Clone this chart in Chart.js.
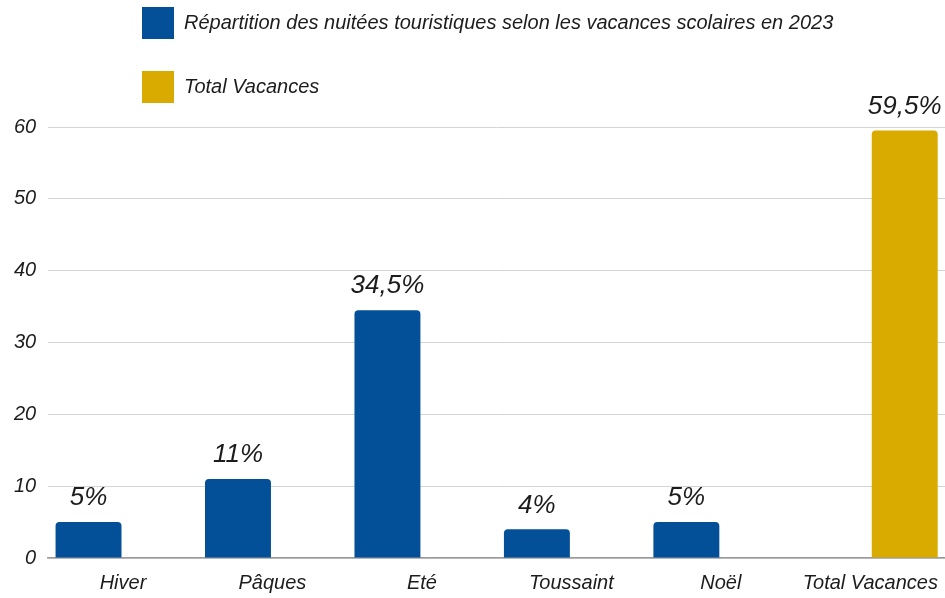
<!DOCTYPE html>
<html lang="fr">
<head>
<meta charset="utf-8">
<title>Nuitées touristiques et vacances scolaires 2023</title>
<script src="https://cdn.jsdelivr.net/npm/chart.js@4.4.0/dist/chart.umd.min.js"></script>
<style>
  html, body { margin: 0; padding: 0; background: #fff; }
  #cadre { width: 945px; height: 598px; }
</style>
</head>
<body>
<div id="cadre"><canvas id="graficoVacances"></canvas></div>
<script>
// données
const categories = ['Hiver', 'Pâques', 'Eté', 'Toussaint', 'Noël', 'Total Vacances'];
const nuitees = [5, 11, 34.5, 4, 5, null];
const totalVacances = [null, null, null, null, null, 59.5];
const etiquettesNuitees = ['5%', '11%', '34,5%', '4%', '5%', ''];
const etiquettesTotal = ['', '', '', '', '', '59,5%'];
const graduationsY = [0, 10, 20, 30, 40, 50, 60];

const bleu = '#034f98';
const jaune = '#d9aa00';
const encre = '#1c1c1c';
const police = "'Liberation Sans', Arial, sans-serif";

// étiquettes de valeur au-dessus des barres
const pluginEtiquettes = {
    id: 'etiquettes',
    afterDatasetsDraw(chart) {
        const ctx = chart.ctx;
        const listes = [etiquettesNuitees, etiquettesTotal];
        chart.data.datasets.forEach((ds, i) => {
            chart.getDatasetMeta(i).data.forEach((barre, j) => {
                const texte = listes[i][j];
                if (!texte) return;
                ctx.save();
                ctx.font = 'italic 26px ' + police;
                ctx.fillStyle = encre;
                ctx.textAlign = 'center';
                ctx.textBaseline = 'bottom';
                ctx.fillText(texte, barre.x, barre.y - 11);
                ctx.restore();
            });
        });
    }
};

// la légende est calée à gauche, une entrée par ligne
const pluginLegende = {
    id: 'posLegende',
    afterLayout(chart) {
        chart.legend.left = 110;
        chart.legend.top = -25;
    }
};

const ctx = document.getElementById('graficoVacances').getContext('2d');

new Chart(ctx, {
    type: 'bar',
    data: {
        labels: categories,
        datasets: [
            {
                label: 'Répartition des nuitées touristiques selon les vacances scolaires en 2023',
                data: nuitees,
                backgroundColor: bleu,
                borderWidth: 0,
                borderRadius: 4,
                barPercentage: 0.957,
                categoryPercentage: 0.922
            },
            {
                label: 'Total Vacances',
                data: totalVacances,
                backgroundColor: jaune,
                borderWidth: 0,
                borderRadius: 4,
                barPercentage: 0.957,
                categoryPercentage: 0.922
            }
        ]
    },
    options: {
        responsive: true,
        maintainAspectRatio: false,
        animation: false,
        layout: { padding: { top: -11, left: 2, right: 0, bottom: -10 } },
        plugins: {
            tooltip: { enabled: false },
            legend: {
                display: true,
                position: 'top',
                align: 'start',
                labels: {
                    boxWidth: 32,
                    boxHeight: 32,
                    padding: 32,
                    color: encre,
                    font: { family: police, size: 20, style: 'italic' }
                }
            }
        },
        scales: {
            x: {
                // le libellé "Total Vacances" ne doit pas réduire la zone du graphique
                afterFit: (axe) => { axe.paddingRight = 0; axe.paddingLeft = 0; },
                grid: { display: false, drawTicks: false },
                border: { display: true, color: '#9a9a9a', width: 1.5 },
                ticks: {
                    padding: 13,
                    color: encre,
                    autoSkip: false,
                    maxRotation: 0,
                    font: { family: police, size: 20, style: 'italic' }
                }
            },
            y: {
                min: 0,
                max: 60,
                afterBuildTicks: (axe) => { axe.ticks = graduationsY.map(v => ({ value: v })); },
                grid: { color: '#d4d4d4', lineWidth: 1, drawTicks: false },
                border: { display: false },
                ticks: {
                    padding: 12,
                    color: encre,
                    font: { family: police, size: 20, style: 'italic' }
                }
            }
        }
    },
    plugins: [pluginEtiquettes, pluginLegende]
});
</script>
</body>
</html>
